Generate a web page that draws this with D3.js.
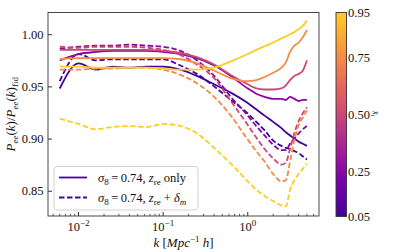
<!DOCTYPE html>
<html>
<head>
<meta charset="utf-8">
<script src="https://cdn.jsdelivr.net/npm/d3@7"></script>
<style>
  html, body { margin: 0; padding: 0; background: #fff; }
  svg { display: block; font-family: "Liberation Serif", "DejaVu Serif", serif; }
</style>
</head>
<body>
<svg id="chart" width="399" height="252"></svg>
<script>
"use strict";

// wavenumbers k [Mpc^-1 h]
const kValues = [0.006, 0.01, 0.016, 0.025, 0.04, 0.063, 0.1, 0.16, 0.25, 0.4, 0.63,
    1.0, 1.26, 1.58, 2.0, 2.5, 2.82, 3.16, 3.55, 4.0, 4.47, 5.0];

// colour values (x_i) of the five runs
const xValues = [0.05, 0.25, 0.50, 0.75, 0.95];

// z_re only (solid)
const solidSeries = [
    [0.948, 0.972, 0.966, 0.969, 0.968, 0.969, 0.969, 0.966, 0.960, 0.952, 0.944, 0.934, 0.928, 0.922, 0.916, 0.910, 0.906, 0.903, 0.900, 0.897, 0.895, 0.893],
    [0.975, 0.981, 0.983, 0.984, 0.984, 0.984, 0.983, 0.981, 0.977, 0.970, 0.960, 0.948, 0.943, 0.940, 0.938, 0.938, 0.937, 0.940, 0.938, 0.936, 0.937, 0.937],
    [0.985, 0.985, 0.985, 0.985, 0.985, 0.985, 0.984, 0.982, 0.978, 0.971, 0.961, 0.952, 0.948, 0.947, 0.947, 0.948, 0.951, 0.956, 0.960, 0.962, 0.965, 0.975],
    [0.976, 0.977, 0.977, 0.977, 0.977, 0.977, 0.977, 0.976, 0.972, 0.965, 0.958, 0.955, 0.956, 0.959, 0.963, 0.968, 0.973, 0.983, 0.989, 0.992, 0.997, 1.004],
    [0.969, 0.969, 0.968, 0.968, 0.968, 0.968, 0.967, 0.966, 0.966, 0.968, 0.974, 0.981, 0.985, 0.9885, 0.992, 0.996, 0.998, 1.000, 1.002, 1.005, 1.008, 1.013]
];

// z_re + delta_m (dashed)
const dashedSeries = [
    [0.955, 0.981, 0.975, 0.976, 0.976, 0.976, 0.976, 0.970, 0.962, 0.950, 0.937, 0.924, 0.916, 0.908, 0.898, 0.893, 0.891, 0.890, 0.888, 0.886, 0.883, 0.880],
    [0.986, 0.988, 0.989, 0.989, 0.990, 0.989, 0.988, 0.984, 0.975, 0.960, 0.940, 0.922, 0.912, 0.903, 0.894, 0.889, 0.889, 0.895, 0.900, 0.905, 0.909, 0.912],
    [0.988, 0.987, 0.988, 0.988, 0.988, 0.987, 0.985, 0.980, 0.971, 0.958, 0.936, 0.913, 0.901, 0.890, 0.881, 0.875, 0.877, 0.890, 0.905, 0.917, 0.924, 0.930],
    [0.966, 0.966, 0.967, 0.967, 0.968, 0.968, 0.966, 0.961, 0.953, 0.940, 0.922, 0.899, 0.888, 0.878, 0.866, 0.859, 0.860, 0.878, 0.898, 0.913, 0.920, 0.927],
    [0.919, 0.914, 0.909, 0.911, 0.912, 0.911, 0.914, 0.912, 0.905, 0.891, 0.876, 0.859, 0.851, 0.845, 0.840, 0.836, 0.835, 0.851, 0.860, 0.866, 0.871, 0.876]
];

const yTicks = [0.85, 0.90, 0.95, 1.00];
const xTicks = [0.01, 0.1, 1];
const cbarTicks = [0.05, 0.25, 0.50, 0.75, 0.95];

const plot = { left: 48, top: 12.5, right: 319, bottom: 216 };
const cbar = { left: 336, right: 346.5, top: 12.5, bottom: 216.5 };

const svg = d3.select("#chart");

const x = d3.scaleLog().domain([10 ** -2.361, 10 ** 0.842]).range([plot.left, plot.right]);
const y = d3.scaleLinear().domain([0.8258, 1.0208]).range([plot.bottom, plot.top]);

// truncated plasma
const color = d3.scaleSequential(t => d3.interpolatePlasma(0.1 + 0.8 * t)).domain([0.05, 0.95]);

const line = d3.line()
    .x((d, i) => x(kValues[i]))
    .y(d => y(d))
    .curve(d3.curveMonotoneX);

svg.append("defs").append("clipPath").attr("id", "clip")
    .append("rect")
    .attr("x", plot.left).attr("y", plot.top)
    .attr("width", plot.right - plot.left).attr("height", plot.bottom - plot.top);

const lines = svg.append("g").attr("clip-path", "url(#clip)");
xValues.forEach((xv, i) => {
    lines.append("path")
        .attr("d", line(solidSeries[i]))
        .attr("fill", "none")
        .attr("stroke", color(xv))
        .attr("stroke-width", 1.8);
    lines.append("path")
        .attr("d", line(dashedSeries[i]))
        .attr("fill", "none")
        .attr("stroke", color(xv))
        .attr("stroke-width", 1.8)
        .attr("stroke-dasharray", "5.5,2.5");
});

// frame
svg.append("rect")
    .attr("x", plot.left).attr("y", plot.top)
    .attr("width", plot.right - plot.left).attr("height", plot.bottom - plot.top)
    .attr("fill", "none").attr("stroke", "#333").attr("stroke-width", 0.9);

// y axis, ticks inward
const yAxis = svg.append("g").attr("transform", `translate(${plot.left},0)`)
    .call(d3.axisLeft(y).tickValues(yTicks).tickFormat(d3.format(".2f")).tickSizeInner(-4).tickSizeOuter(0).tickPadding(4.5));
yAxis.select(".domain").remove();
yAxis.selectAll("line").attr("stroke", "#333");
yAxis.selectAll("text").attr("font-size", 12.5).attr("fill", "#111")
    .attr("font-family", "Liberation Serif, serif");

// x axis, ticks inward, with minor ticks
const minor = [];
for (let e = -3; e <= 0; e++) {
    for (let m = 2; m <= 9; m++) {
        const v = m * 10 ** e;
        if (v > x.domain()[0] && v < x.domain()[1]) minor.push(v);
    }
}
const xg = svg.append("g").attr("transform", `translate(0,${plot.bottom})`);
xg.selectAll(".major").data(xTicks).join("line")
    .attr("x1", d => x(d)).attr("x2", d => x(d))
    .attr("y1", 0).attr("y2", -4).attr("stroke", "#333");
xg.selectAll(".minor").data(minor).join("line")
    .attr("x1", d => x(d)).attr("x2", d => x(d))
    .attr("y1", 0).attr("y2", -2.2).attr("stroke", "#333").attr("stroke-width", 0.8);
const xlab = xg.selectAll(".lab").data(xTicks).join("text")
    .attr("x", d => x(d)).attr("y", 15)
    .attr("text-anchor", "middle").attr("font-size", 12.5).attr("fill", "#111");
xlab.append("tspan").text("10");
xlab.append("tspan").attr("dy", -5).attr("font-size", 9)
    .text(d => Math.round(Math.log10(d)) === 0 ? "0" : "\u2212" + Math.abs(Math.round(Math.log10(d))));

// axis labels
const xl = svg.append("text")
    .attr("x", (plot.left + plot.right) / 2).attr("y", 247)
    .attr("text-anchor", "middle").attr("font-size", 13).attr("fill", "#111");
xl.append("tspan").attr("font-style", "italic").text("k");
xl.append("tspan").text(" [");
xl.append("tspan").attr("font-style", "italic").text("Mpc");
xl.append("tspan").attr("dy", -5).attr("font-size", 9).text("\u22121");
xl.append("tspan").attr("dy", 5).attr("font-style", "italic").text(" h");
xl.append("tspan").text("]");

const yl = svg.append("text")
    .attr("transform", `translate(15,${(plot.top + plot.bottom) / 2}) rotate(-90)`)
    .attr("text-anchor", "middle").attr("font-size", 13).attr("fill", "#111");
yl.append("tspan").attr("font-style", "italic").text("P");
yl.append("tspan").attr("dy", 3).attr("font-size", 9).attr("font-style", "italic").text("ee");
yl.append("tspan").attr("dy", -3).text("(");
yl.append("tspan").attr("font-style", "italic").text("k");
yl.append("tspan").text(")/");
yl.append("tspan").attr("font-style", "italic").text("P");
yl.append("tspan").attr("dy", 3).attr("font-size", 9).attr("font-style", "italic").text("ee");
yl.append("tspan").attr("dy", -3).text("(");
yl.append("tspan").attr("font-style", "italic").text("k");
yl.append("tspan").text(")");
yl.append("tspan").attr("dy", 3).attr("font-size", 9).text("fid");

// legend
const lg = svg.append("g");
lg.append("rect")
    .attr("x", 54).attr("y", 166.5).attr("width", 144).attr("height", 43.5)
    .attr("rx", 3).attr("fill", "#fff").attr("fill-opacity", 0.8)
    .attr("stroke", "#ccc").attr("stroke-width", 0.9);
const legendDash = [null, "5.5,2.5"];
legendDash.forEach((dash, i) => {
    const ly = 177.5 + i * 20;
    lg.append("line")
        .attr("x1", 59).attr("x2", 87).attr("y1", ly).attr("y2", ly)
        .attr("stroke", color(xValues[0])).attr("stroke-width", 1.8)
        .attr("stroke-dasharray", dash);
    const t = lg.append("text").attr("x", 98).attr("y", ly + 4.5)
        .attr("font-size", 12.5).attr("fill", "#111");
    t.append("tspan").attr("font-style", "italic").text("\u03c3");
    t.append("tspan").attr("dy", 3).attr("font-size", 9).text("8");
    t.append("tspan").attr("dy", -3).text("\u2009=\u20090.74, ");
    t.append("tspan").attr("font-style", "italic").text("z");
    t.append("tspan").attr("dy", 3).attr("font-size", 9).text("re");
    if (i === 0) {
        t.append("tspan").attr("dy", -3).text(" only");
    } else {
        t.append("tspan").attr("dy", -3).text(" + ");
        t.append("tspan").attr("font-style", "italic").text("\u03b4");
        t.append("tspan").attr("dy", 3).attr("font-size", 9).attr("font-style", "italic").text("m");
    }
});

// colorbar
const grad = svg.select("defs").append("linearGradient")
    .attr("id", "cbgrad").attr("x1", 0).attr("y1", 1).attr("x2", 0).attr("y2", 0);
d3.range(0, 1.0001, 0.05).forEach(t => {
    grad.append("stop").attr("offset", t).attr("stop-color", color(0.05 + 0.9 * t));
});
const cy = d3.scaleLinear().domain([0.05, 0.95]).range([cbar.bottom, cbar.top]);
svg.append("rect")
    .attr("x", cbar.left).attr("y", cbar.top)
    .attr("width", cbar.right - cbar.left).attr("height", cbar.bottom - cbar.top)
    .attr("fill", "url(#cbgrad)").attr("stroke", "#333").attr("stroke-width", 0.9);
svg.append("g").selectAll("text").data(cbarTicks).join("text")
    .attr("x", cbar.right + 1.5).attr("y", d => cy(d) + 4.5)
    .attr("font-size", 12.5).attr("fill", "#111")
    .text(d => d3.format(".2f")(d));
const cl = svg.append("text")
    .attr("transform", `translate(373,${cy(0.5) - 1}) rotate(90)`)
    .attr("text-anchor", "middle").attr("font-size", 8).attr("fill", "#111");
cl.append("tspan").attr("font-style", "italic").text("x\u0304");
cl.append("tspan").attr("dy", 2).attr("font-size", 6).text("i");
</script>
</body>
</html>
